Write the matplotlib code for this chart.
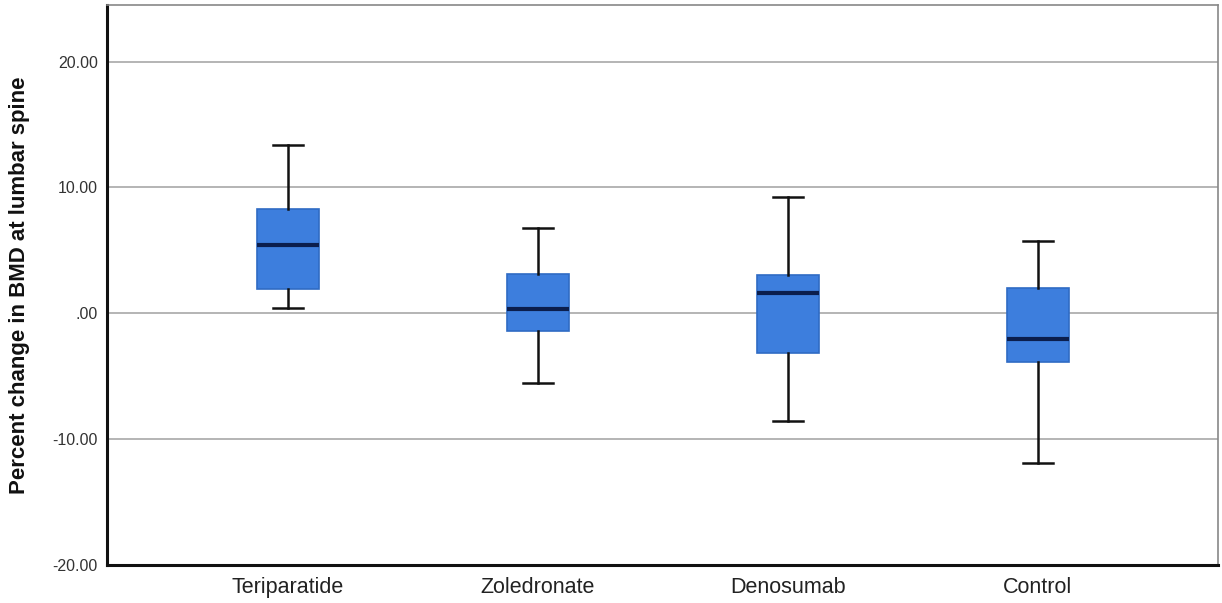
import matplotlib
matplotlib.use("Agg")
import matplotlib.pyplot as plt

categories = ["Teriparatide", "Zoledronate", "Denosumab", "Control"]
whisker_low = [0.40, -5.57, -8.59, -11.93]
q1 = [1.91, -1.43, -3.18, -3.90]
median = [5.41, 0.32, 1.59, -2.04]
q3 = [8.27, 3.10, 3.02, 1.99]
whisker_high = [13.37, 6.76, 9.23, 5.75]
yticks = [-20, -10, 0, 10, 20]
ytick_labels = ["-20.00", "-10.00", ".00", "10.00", "20.00"]

plt.rcParams['font.family'] = ['Liberation Sans', 'DejaVu Sans']

fig = plt.figure(figsize=(12.22, 6.03), dpi=100)
ax = fig.add_axes([107/1222, 38/603, (1218-107)/1222, (565-5)/603])

stats = []
for i, name in enumerate(categories):
    stats.append(dict(label=name, whislo=whisker_low[i], q1=q1[i], med=median[i],
                      q3=q3[i], whishi=whisker_high[i], fliers=[]))

pos = list(range(len(categories)))
ax.bxp(stats, positions=pos, widths=0.245, patch_artist=True, showfliers=False,
       boxprops=dict(facecolor="#3D7EDD", edgecolor="#2F6BC4", linewidth=1.2),
       medianprops=dict(color="#0B1E4D", linewidth=3),
       whiskerprops=dict(color="#111111", linewidth=1.8),
       capprops=dict(color="#111111", linewidth=1.8),
       capwidths=0.12, zorder=3)

ax.set_xlim(-0.724, 3.72)
ax.set_ylim(-20, 24.5)
ax.set_yticks(yticks)
ax.set_yticklabels(ytick_labels, fontsize=11.5, color="#333333")
ax.set_xticks(pos)
ax.set_xticklabels(categories, fontsize=15.5, color="#222222")
ax.tick_params(axis='y', length=0, pad=6.5)
ax.tick_params(axis='x', length=0, pad=8.5)

for y in [10, 0, -10, 20]:
    ax.axhline(y, color="#A8A8A8", linewidth=1.2, zorder=1)

ax.spines['left'].set_linewidth(2.2)
ax.spines['left'].set_color("#111111")
ax.spines['bottom'].set_linewidth(2.2)
ax.spines['bottom'].set_color("#111111")
ax.spines['top'].set_linewidth(1.2)
ax.spines['top'].set_color("#888888")
ax.spines['right'].set_linewidth(1.2)
ax.spines['right'].set_color("#888888")

fig.text(20/1222, 1 - 285/603, "Percent change in BMD at lumbar spine",
         rotation=90, ha='center', va='center', fontsize=16, fontweight='bold',
         color="#111111")

fig.savefig("out.png", dpi=100)
